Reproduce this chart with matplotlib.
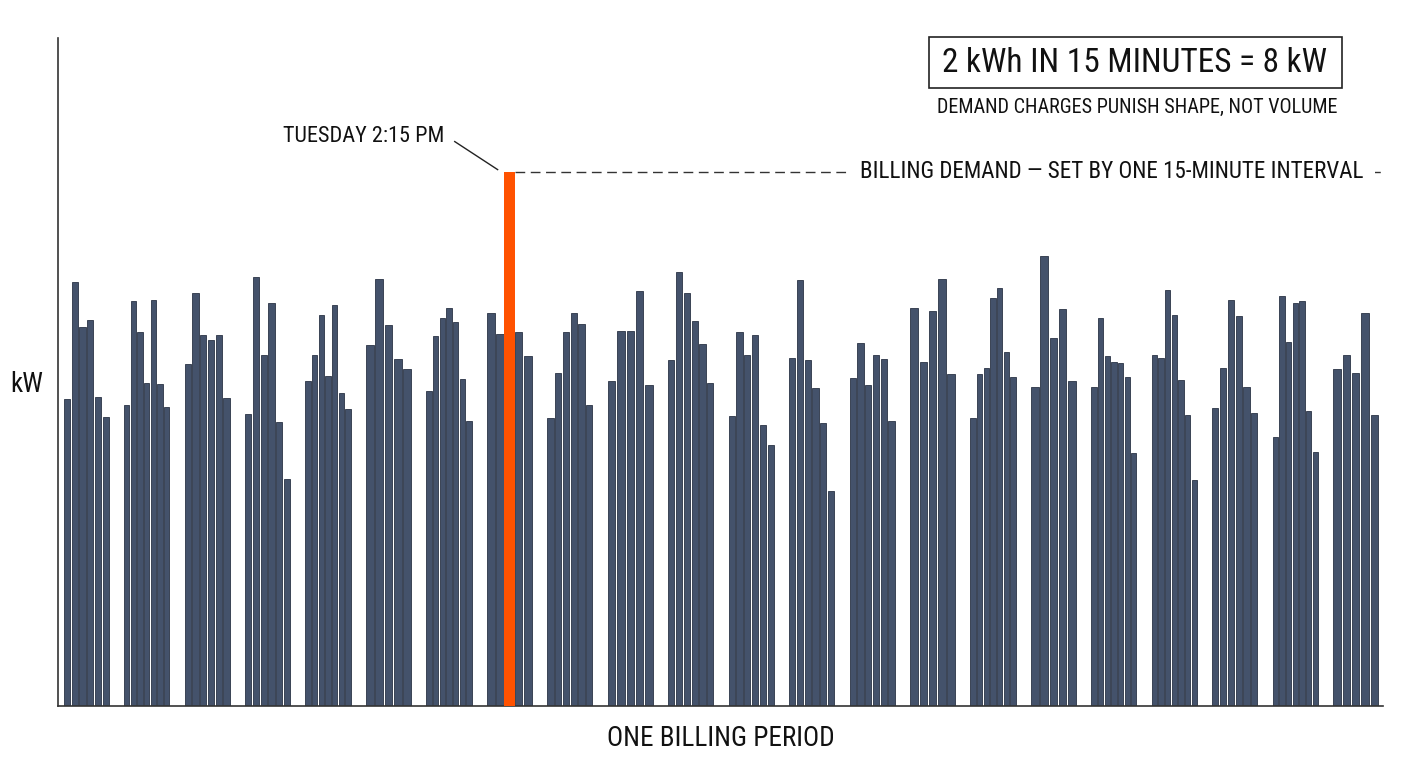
import matplotlib.pyplot as plt
from matplotlib.patches import Rectangle

# kW per 15-minute interval, one list per day of the billing period
daily_kw = [
    [4.60, 6.35, 5.67, 5.78, 4.63, 4.32],
    [4.51, 6.07, 5.60, 4.84, 6.08, 4.82, 4.48],
    [5.12, 6.19, 5.55, 5.48, 5.55, 4.61],
    [4.37, 6.42, 5.26, 6.03, 4.25, 3.40],
    [4.87, 5.25, 5.85, 4.94, 6.01, 4.69, 4.45],
    [5.40, 6.39, 5.70, 5.19, 5.04],
    [4.72, 5.54, 5.81, 5.96, 5.75, 4.89, 4.27],
    [5.88, 5.57, 8.00, 5.60, 5.24],
    [4.31, 4.99, 5.60, 5.88, 5.72, 4.51],
    [4.87, 5.61, 5.62, 6.22, 4.80],
    [5.18, 6.49, 6.19, 5.77, 5.42, 4.83],
    [4.34, 5.60, 5.26, 5.55, 4.21, 3.90],
    [5.21, 6.38, 5.18, 4.76, 4.24, 3.22],
    [4.91, 5.43, 4.81, 5.25, 5.19, 4.27],
    [5.96, 5.15, 5.91, 6.39, 4.97],
    [4.31, 4.97, 5.06, 6.11, 6.26, 5.30, 4.93],
    [4.77, 6.74, 5.51, 5.94, 4.87],
    [4.78, 5.81, 5.24, 5.15, 5.13, 4.93, 3.79],
    [5.26, 5.21, 6.23, 5.85, 4.88, 4.36, 3.39],
    [4.46, 5.06, 6.08, 5.84, 4.78, 4.39],
    [4.03, 6.14, 5.45, 6.03, 6.06, 4.42, 3.80],
    [5.04, 5.26, 4.99, 5.89, 4.35],
]
peak_day = 7
peak_slot = 2
peak_label = "TUESDAY 2:15 PM"
demand_label = "BILLING DEMAND \u2014 SET BY ONE 15-MINUTE INTERVAL"
box_title = "2 kWh IN 15 MINUTES = 8 kW"
box_sub = "DEMAND CHARGES PUNISH SHAPE, NOT VOLUME"

NAVY = "#44526b"
NAVY_EDGE = "#2a3345"
ORANGE = "#ff5200"
FONT = ["Liberation Sans Narrow", "Roboto Condensed", "DejaVu Sans Condensed", "DejaVu Sans"]
plt.rcParams["font.family"] = FONT

fig = plt.figure(figsize=(14.08, 7.68), dpi=100)
ax = fig.add_axes([0.0412, 0.0807, 0.941, 0.8698])

span = 0.77
peak_x = None
for d, vals in enumerate(daily_kw):
    n = len(vals)
    step = span / n
    xs = [d + step * (i + 0.5) for i in range(n)]
    for i, (x, v) in enumerate(zip(xs, vals)):
        if d == peak_day and i == peak_slot:
            peak_x = x
            peak_w = 0.19
            ax.bar(x, v, width=peak_w, color=ORANGE, edgecolor=ORANGE, linewidth=0, zorder=3)
        else:
            ax.bar(x, v, width=step * 0.8, color=NAVY, edgecolor=NAVY_EDGE, linewidth=0.6, zorder=2)

peak_val = daily_kw[peak_day][peak_slot]
xmax = len(daily_kw) - 1 + span + 0.066
ax.set_xlim(-0.083, xmax)
ax.set_ylim(0, 10)

# billing demand reference line
ax.plot([peak_x + peak_w / 2, xmax], [peak_val, peak_val], ls=(0, (7, 4)), color="#333333", lw=1, zorder=1)
ax.text(21.52, peak_val, demand_label, ha="right", va="center", fontsize=16.6, color="#111111",
        bbox=dict(boxstyle="square,pad=0.5", fc="white", ec="none"), zorder=4)

# peak callout
tx, ty = 6.31, 8.52
ax.text(tx, ty, peak_label, ha="right", va="center", fontsize=16, color="#111111")
ax.plot([tx + 0.17, peak_x - peak_w / 2 - 0.1], [ty - 0.07, peak_val + 0.03], color="#222222", lw=1)

for s in ["top", "right"]:
    ax.spines[s].set_visible(False)
for s in ["left", "bottom"]:
    ax.spines[s].set_color("#333333")
    ax.spines[s].set_linewidth(1.2)
ax.set_xticks([])
ax.set_yticks([])

fig.text(0.5117, 1 - 739 / 768, "ONE BILLING PERIOD", ha="center", va="center", fontsize=19.5, color="#111111")
fig.text(27 / 1408, 1 - 385 / 768, "kW", ha="center", va="center", fontsize=19.5, color="#111111")

fig.add_artist(Rectangle((929 / 1408, 1 - 88 / 768), 413 / 1408, 51 / 768, fill=False,
                         ec="#222222", lw=1.2, transform=fig.transFigure))
fig.text(1135 / 1408, 1 - 63 / 768, box_title, ha="center", va="center", fontsize=24, color="#111111")
fig.text(1137 / 1408, 1 - 107 / 768, box_sub, ha="center", va="center", fontsize=14.5, color="#111111")

fig.savefig("out.png", dpi=100, facecolor="white")
